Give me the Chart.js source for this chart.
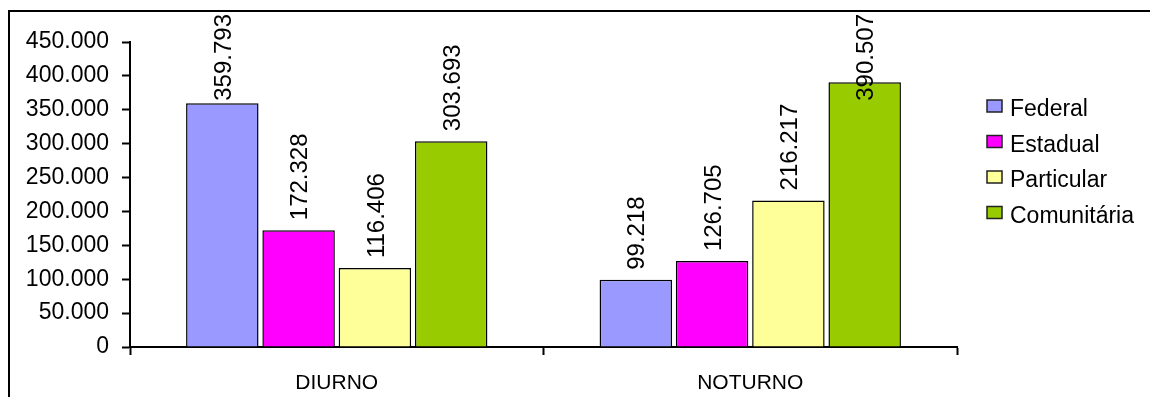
<!DOCTYPE html>
<html>
<head>
<meta charset="utf-8">
<title>Matrículas por turno e dependência administrativa</title>
<script src="https://cdn.jsdelivr.net/npm/chart.js@4/dist/chart.umd.min.js"></script>
<style>
  html, body { margin: 0; padding: 0; background: #fff; }
  #wrap { width: 1150px; height: 397px; position: relative; }
</style>
</head>
<body>
<div id="wrap"><canvas id="chart" width="1150" height="397"></canvas></div>
<script>
// Turnos (categorias do eixo X)
const categories = ['DIURNO', 'NOTURNO'];

// Matrículas por dependência administrativa
const seriesNames = ['Federal', 'Estadual', 'Particular', 'Comunitária'];
const federal     = [359793, 99218];
const estadual    = [172328, 126705];
const particular  = [116406, 216217];
const comunitaria = [303693, 390507];

// Eixo Y
const yMin = 0;
const yMax = 450000;
const yStep = 50000;

const seriesColors = ['#9999FF', '#FF00FF', '#FFFF99', '#99CC00'];
const FONT = "'Liberation Sans', Arial, sans-serif";

// 450000 -> "450.000"
function fmt(v) {
  return String(Math.round(v)).replace(/\B(?=(\d{3})+(?!\d))/g, '.');
}

// Fundo branco e moldura
const framePlugin = {
  id: 'frame',
  beforeDraw(chart) {
    const ctx = chart.ctx;
    ctx.save();
    ctx.fillStyle = '#fff';
    ctx.fillRect(0, 0, chart.width, chart.height);
    ctx.fillStyle = '#000';
    ctx.fillRect(8, 10, 2, chart.height);
    ctx.fillRect(8, 10, chart.width, 2);
    ctx.restore();
  }
};

// Rótulos de valor verticais sobre as barras
const valueLabels = {
  id: 'valueLabels',
  afterDatasetsDraw(chart) {
    const ctx = chart.ctx;
    ctx.save();
    ctx.font = '24px ' + FONT;
    ctx.fillStyle = '#000';
    ctx.textAlign = 'left';
    ctx.textBaseline = 'middle';
    chart.data.datasets.forEach((ds, i) => {
      const meta = chart.getDatasetMeta(i);
      meta.data.forEach((bar, j) => {
        const text = fmt(ds.data[j]);
        const w = ctx.measureText(text).width;
        let start = bar.y - 10;
        if (start - w < 14) start = 14 + w;
        ctx.save();
        ctx.translate(bar.x + 2, start);
        ctx.rotate(-Math.PI / 2);
        ctx.fillText(text, 0, 0);
        ctx.restore();
      });
    });
    ctx.restore();
  }
};

// Legenda à direita
const sideLegend = {
  id: 'sideLegend',
  afterDraw(chart) {
    const ctx = chart.ctx;
    ctx.save();
    ctx.font = '23px ' + FONT;
    ctx.textAlign = 'left';
    ctx.textBaseline = 'alphabetic';
    chart.data.datasets.forEach((ds, i) => {
      const cy = 106 + i * 35.5;
      ctx.fillStyle = ds.backgroundColor;
      ctx.fillRect(987, cy - 6, 15, 12);
      ctx.strokeStyle = '#222';
      ctx.lineWidth = 1.5;
      ctx.strokeRect(987, cy - 6, 15, 12);
      ctx.fillStyle = '#000';
      ctx.fillText(ds.label, 1010, cy + 10);
    });
    ctx.restore();
  }
};

const seriesData = [federal, estadual, particular, comunitaria];

new Chart(document.getElementById('chart'), {
  type: 'bar',
  data: {
    labels: categories,
    datasets: seriesNames.map((name, i) => ({
      label: name,
      data: seriesData[i],
      backgroundColor: seriesColors[i],
      borderColor: '#000',
      borderWidth: 1.5,
      categoryPercentage: 0.738,
      barPercentage: 0.95
    }))
  },
  options: {
    responsive: false,
    animation: false,
    devicePixelRatio: 1,
    layout: { padding: { top: 42, right: 193, bottom: 0, left: 0 } },
    plugins: {
      legend: { display: false },
      tooltip: { enabled: false }
    },
    scales: {
      x: {
        type: 'category',
        grid: {
          offset: true,
          drawOnChartArea: false,
          drawTicks: true,
          tickLength: 8,
          tickWidth: 2,
          tickColor: '#000'
        },
        border: { color: '#000', width: 2 },
        ticks: { color: '#000', font: { family: FONT, size: 21 }, padding: 16 },
        afterFit(s) { s.height = 50; }
      },
      y: {
        min: yMin,
        max: yMax,
        grid: {
          drawOnChartArea: false,
          drawTicks: true,
          tickLength: 8,
          tickWidth: 2,
          tickColor: '#000'
        },
        border: { color: '#000', width: 2 },
        ticks: {
          stepSize: yStep,
          color: '#000',
          font: { family: FONT, size: 23 },
          padding: 13,
          callback: (v) => fmt(v)
        },
        afterFit(s) { s.width = 130; }
      }
    }
  },
  plugins: [framePlugin, valueLabels, sideLegend]
});
</script>
</body>
</html>
